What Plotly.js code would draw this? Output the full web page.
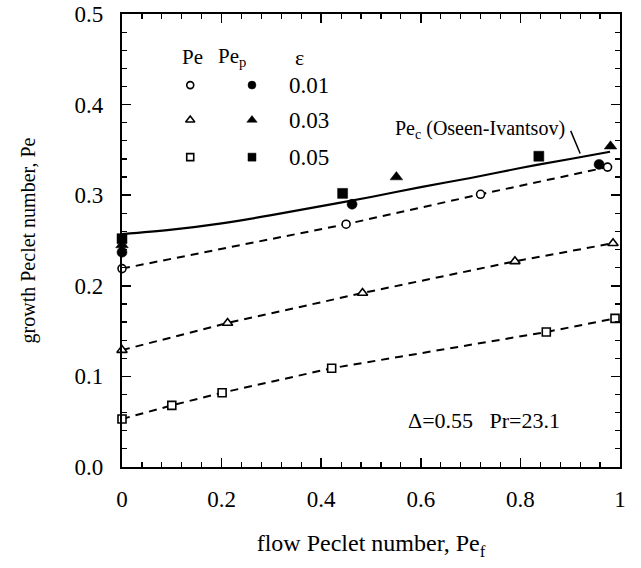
<!DOCTYPE html>
<html>
<head>
<meta charset="utf-8">
<script src="https://cdn.plot.ly/plotly-3.0.1.min.js"></script>
<style>
  html, body { margin: 0; padding: 0; background: #fff; }
  #chart { width: 641px; height: 568px; }
</style>
</head>
<body>
<div id="chart"></div>
<script>
// Growth Peclet number vs flow Peclet number (Δ=0.55, Pr=23.1)

// Oseen-Ivantsov critical curve Pe_c
const curveX = [0, 0.1, 0.2, 0.3, 0.4, 0.5, 0.6, 0.7, 0.8, 0.9, 0.98];
const curveY = [0.257, 0.262, 0.269, 0.278, 0.288, 0.298, 0.309, 0.319, 0.330, 0.340, 0.348];

// ε = 0.01
const pe01X  = [0, 0.45, 0.72, 0.975];
const pe01Y  = [0.219, 0.268, 0.301, 0.331];
const pep01X = [0, 0.462, 0.958];
const pep01Y = [0.237, 0.290, 0.334];

// ε = 0.03
const pe03X  = [0, 0.212, 0.483, 0.789, 0.986];
const pe03Y  = [0.129, 0.159, 0.192, 0.227, 0.247];
const pep03X = [0, 0.551, 0.981];
const pep03Y = [0.245, 0.320, 0.354];

// ε = 0.05
const pe05X  = [0, 0.1, 0.201, 0.421, 0.852, 0.99];
const pe05Y  = [0.053, 0.068, 0.082, 0.109, 0.149, 0.164];
const pep05X = [0, 0.443, 0.837];
const pep05Y = [0.252, 0.302, 0.343];

const epsLabels = ['0.01', '0.03', '0.05'];
const xTicks = [0, 0.2, 0.4, 0.6, 0.8, 1];
const xTickText = ['0', '0.2', '0.4', '0.6', '0.8', '1'];

// key table placement (fractions of the plot area)
const keyRowY = [0.843, 0.766, 0.684];
const keyOpenX = 0.137, keyFilledX = 0.261, keyTextX = 0.331, keyHeadY = 0.905;

const serif = 'Liberation Serif, Times New Roman, serif';
const ink = '#000';

const symbols = ['circle', 'triangle-up', 'square'];
const markerSize = [8, 9, 8];

function openTrace(x, y, k) {
  return {
    x: x, y: y, type: 'scatter', mode: 'lines+markers', showlegend: false, cliponaxis: false,
    line: { color: ink, width: 2, dash: '8px,6px' },
    marker: { symbol: symbols[k], size: markerSize[k], color: '#fff',
              line: { color: ink, width: 1.6 } },
    hoverinfo: 'x+y'
  };
}
function filledTrace(x, y, k) {
  return {
    x: x, y: y, type: 'scatter', mode: 'markers', showlegend: false, cliponaxis: false,
    marker: { symbol: symbols[k], size: markerSize[k] + 2, color: ink,
              line: { color: ink, width: 0.5 } },
    hoverinfo: 'x+y'
  };
}

const traces = [
  { x: curveX, y: curveY, type: 'scatter', mode: 'lines', showlegend: false,
    line: { color: ink, width: 2.2, shape: 'spline' }, hoverinfo: 'x+y' },
  openTrace(pe01X, pe01Y, 0),
  openTrace(pe03X, pe03Y, 1),
  openTrace(pe05X, pe05Y, 2),
  filledTrace(pep01X, pep01Y, 0),
  filledTrace(pep03X, pep03Y, 1),
  filledTrace(pep05X, pep05Y, 2)
];

// key symbols, drawn on a hidden overlay axis spanning the plot area
for (let k = 0; k < 3; k++) {
  traces.push({
    x: [keyOpenX], y: [keyRowY[k]], xaxis: 'x2', yaxis: 'y2', type: 'scatter',
    mode: 'markers', showlegend: false, hoverinfo: 'skip',
    marker: { symbol: symbols[k], size: markerSize[k] - 1, color: '#fff',
              line: { color: ink, width: 1.6 } }
  });
  traces.push({
    x: [keyFilledX], y: [keyRowY[k]], xaxis: 'x2', yaxis: 'y2', type: 'scatter',
    mode: 'markers', showlegend: false, hoverinfo: 'skip',
    marker: { symbol: symbols[k], size: markerSize[k], color: ink,
              line: { color: ink, width: 0.5 } }
  });
}

const annotations = [
  { xref: 'x2', yref: 'y2', x: keyOpenX + 0.005, y: keyHeadY, text: 'Pe', showarrow: false,
    font: { family: serif, size: 21, color: ink } },
  { xref: 'x2', yref: 'y2', x: keyFilledX - 0.04, y: keyHeadY, text: 'Pe<sub>p</sub>', showarrow: false,
    font: { family: serif, size: 21, color: ink } },
  { xref: 'x2', yref: 'y2', x: 0.357, y: keyHeadY, text: 'ε', showarrow: false,
    font: { family: serif, size: 22, color: ink } },
  { xref: 'x', yref: 'y', x: 0.719, y: 0.372, text: 'Pe<sub>c</sub> (Oseen-Ivantsov)', showarrow: false,
    font: { family: serif, size: 20, color: ink } },
  { xref: 'x', yref: 'y', x: 0.727, y: 0.051, text: 'Δ=0.55\u00a0\u00a0\u00a0Pr=23.1', showarrow: false,
    font: { family: serif, size: 22, color: ink } }
];
for (let k = 0; k < 3; k++) {
  annotations.push({ xref: 'x2', yref: 'y2', x: keyTextX, y: keyRowY[k], xanchor: 'left',
    text: epsLabels[k], showarrow: false, font: { family: serif, size: 23, color: ink } });
}

const layout = {
  width: 641, height: 568,
  margin: { l: 122, r: 21, t: 14, b: 101 },
  paper_bgcolor: '#fff', plot_bgcolor: '#fff',
  font: { family: serif, color: ink },
  xaxis: {
    range: [0, 1], tickvals: xTicks, ticktext: xTickText,
    ticks: 'inside', ticklen: 9, tickwidth: 1.5, tickcolor: ink,
    minor: { dtick: 0.04, ticks: 'inside', ticklen: 5, tickwidth: 1.2, tickcolor: ink },
    showline: true, linewidth: 2.2, linecolor: ink, mirror: 'ticks',
    showgrid: false, zeroline: false,
    tickfont: { family: serif, size: 23, color: ink }, ticklabelstandoff: 10,
    title: { text: 'flow Peclet number, Pe<sub>f</sub>', font: { family: serif, size: 24, color: ink }, standoff: 24 }
  },
  yaxis: {
    range: [0, 0.5], dtick: 0.1, tickformat: '.1f',
    ticks: 'inside', ticklen: 9, tickwidth: 1.5, tickcolor: ink,
    minor: { dtick: 0.02, ticks: 'inside', ticklen: 5, tickwidth: 1.2, tickcolor: ink },
    showline: true, linewidth: 2.2, linecolor: ink, mirror: 'ticks',
    showgrid: false, zeroline: false,
    tickfont: { family: serif, size: 23, color: ink }, ticklabelstandoff: 12,
    title: { text: 'growth Peclet number, Pe', font: { family: serif, size: 20, color: ink }, standoff: 34 }
  },
  xaxis2: { overlaying: 'x', range: [0, 1], visible: false, fixedrange: true },
  yaxis2: { overlaying: 'y', range: [0, 1], visible: false, fixedrange: true },
  shapes: [
    // leader from the Pe_c label down to the curve
    { type: 'line', xref: 'x', yref: 'y', x0: 0.901, y0: 0.371, x1: 0.92, y1: 0.346,
      line: { color: ink, width: 1.5 } }
  ],
  annotations: annotations
};

Plotly.newPlot('chart', traces, layout, { displayModeBar: false, staticPlot: true });
</script>
</body>
</html>
